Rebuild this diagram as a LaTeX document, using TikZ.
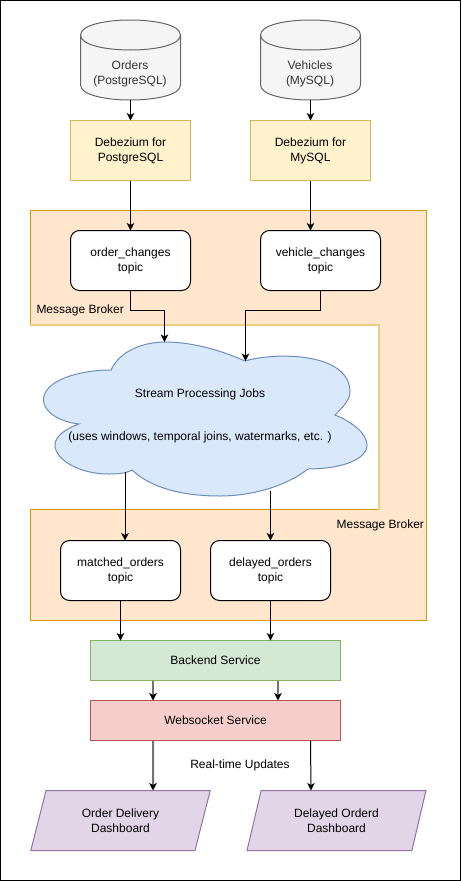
\documentclass[tikz,border=0pt]{standalone}
\usepackage{fontspec}
\setmainfont{Liberation Sans}
\usetikzlibrary{arrows.meta,shapes.geometric}
\definecolor{dbfill}{HTML}{F5F5F5}
\definecolor{dbline}{HTML}{666666}
\definecolor{dbtext}{HTML}{333333}
\definecolor{yellowfill}{HTML}{FFF2CC}
\definecolor{yellowline}{HTML}{D6B656}
\definecolor{brokerfill}{HTML}{FFE6CC}
\definecolor{brokerline}{HTML}{D79B00}
\definecolor{brokersoft}{HTML}{EDCB7F}
\definecolor{cloudfill}{HTML}{DAE8FC}
\definecolor{cloudline}{HTML}{6C8EBF}
\definecolor{greenfill}{HTML}{D5E8D4}
\definecolor{greenline}{HTML}{82B366}
\definecolor{redfill}{HTML}{F8CECC}
\definecolor{redline}{HTML}{B85450}
\definecolor{purplefill}{HTML}{E1D5E7}
\definecolor{purpleline}{HTML}{9673A6}
\tikzset{
  every node/.style={font=\fontsize{12}{15}\selectfont, align=center, inner sep=0pt, outer sep=0pt},
  flow/.style={line width=1pt, -{Stealth[length=7.5pt,width=7.5pt,inset=2pt]}},
  flowsoft/.style={draw=black!55, line width=2pt, -{Stealth[length=7.5pt,width=7.5pt,inset=2pt,black]}},
  dbdrum/.style={draw=dbline, fill=dbfill, line width=1pt},
  dbname/.style={text=dbtext},
  connector/.style={draw=yellowline, fill=yellowfill, line width=1pt, minimum width=120pt, minimum height=60pt},
  topicbox/.style={draw=black, fill=white, rounded corners=9pt, line width=1pt, minimum width=120pt, minimum height=60pt},
  service/.style={line width=1pt, minimum width=250pt, minimum height=40pt},
  dashboard/.style={trapezium, trapezium left angle=71.6, trapezium right angle=108.4, trapezium stretches=true, draw=purpleline, fill=purplefill, line width=1pt, minimum width=180pt, minimum height=60pt}
}
% Drum outline, argument is the left edge
\newcommand{\drumat}[1]{
  \draw[dbdrum] (#1,35) .. controls (#1,15) and (#1+100,15) .. (#1+100,35) -- (#1+100,85)
    .. controls (#1+100,105) and (#1,105) .. (#1,85) -- cycle;
  \draw[dbdrum, fill=none] (#1,35) .. controls (#1,55) and (#1+100,55) .. (#1+100,35);
}
\begin{document}
\begin{tikzpicture}[x=1pt,y=-1pt]
\useasboundingbox (0,0) rectangle (461,881);
% Outer frame
\draw[line width=1pt] (0.5,0.5) rectangle (460.5,880.5);
% Message broker band wrapped round the cloud
\fill[brokerfill] (30.5,210.5) -- (426.5,210.5) -- (426.5,620) -- (30.5,620) -- (30.5,510) -- (379,510) -- (379,325) -- (30.5,325) -- cycle;
\draw[draw=brokerline, line width=1pt] (30.5,325) -- (30.5,210.5) -- (426.5,210.5) -- (426.5,620) -- (30.5,620) -- (30.5,509.5) -- (379,509.5);
\draw[draw=brokersoft, line width=2pt] (30,325) -- (379,325) -- (379,510);
\node[anchor=west] (brokerleft) at (36.5,310) {Message Broker};
\node[anchor=east] (brokerright) at (424,525) {Message Broker};
% Source databases
\drumat{80.5}
\node[dbname] (orders) at (130,73.5) {Orders\\(PostgreSQL)};
\coordinate (ordersbase) at (130.5,100);
\drumat{260.5}
\node[dbname] (vehicles) at (310,73.5) {Vehicles\\(MySQL)};
\coordinate (vehiclesbase) at (310.5,100);
% CDC connectors
\node[connector] (debpg) at (130.5,150.5) {Debezium for\\PostgreSQL};
\node[connector] (debmy) at (310.5,150.5) {Debezium for\\MySQL};
% Input topics
\node[topicbox] (orderchanges) at (130.5,260.5) {order\_changes\\topic};
\node[topicbox] (vehiclechanges) at (320.5,260.5) {vehicle\_changes\\topic};
% Cloud drawn by hand
\draw[draw=cloudline, fill=cloudfill, line width=1pt] (111,370)
  .. controls (120,350) and (145,342) .. (165,342)
  .. controls (195,342) and (225,352) .. (245,361)
  .. controls (275,352) and (350,352) .. (350,392)
  .. controls (350,400) and (342,408) .. (335,415)
  .. controls (355,423) and (367,435) .. (367,445)
  .. controls (367,460) and (340,469) .. (308,469)
  .. controls (285,487) and (250,496) .. (220,496)
  .. controls (180,496) and (150,487) .. (132,470)
  .. controls (125,474) and (115,474) .. (108,474)
  .. controls (80,474) and (55,460) .. (55,445)
  .. controls (55,435) and (68,428) .. (79,424)
  .. controls (60,422) and (43.5,412) .. (43.5,400)
  .. controls (43.5,380) and (80,370) .. (111,370) -- cycle;
\node (jobs) at (200,416) {Stream Processing Jobs\\[28pt](uses windows, temporal joins, watermarks, etc. )};
\coordinate (cloudtopa) at (164.5,342);
\coordinate (cloudtopb) at (245.5,361);
\coordinate (cloudlowa) at (125,472);
\coordinate (cloudlowb) at (270.5,491);
% Output topics
\node[topicbox] (matched) at (120.5,570.5) {matched\_orders\\topic};
\node[topicbox] (delayed) at (270.5,570.5) {delayed\_orders\\topic};
% Services
\node[service, draw=greenline, fill=greenfill] (backend) at (215.5,660.5) {Backend Service};
\node[service, draw=redline, fill=redfill] (websocket) at (215.5,720.5) {Websocket Service};
% Dashboards
\node[dashboard] (dashorder) at (120.5,820.5) {Order Delivery\\Dashboard};
\node[dashboard] (dashdelay) at (336.5,820.5) {Delayed Orderd\\Dashboard};
\node (realtime) at (240,765) {Real-time Updates};
% Arrows top to bottom
\draw[flow] (ordersbase) -- (debpg.north);
\draw[flow] (vehiclesbase) -- (debmy.north);
\draw[flow] (debpg.south) -- (orderchanges.north);
\draw[flow] (debmy.south) -- (debmy.south |- vehiclechanges.north);
\draw[flow] (orderchanges.south) -- ++(0,20) -| (cloudtopa);
\draw[flow] (vehiclechanges.south) -- ++(0,20) -| (cloudtopb);
\draw[flow] (cloudlowa) -- (cloudlowa |- matched.north);
\draw[flow] (cloudlowb) -- (delayed.north);
\draw[flow] (matched.south) -- (matched.south |- backend.north);
\draw[flow] (delayed.south) -- (delayed.south |- backend.north);
\draw[flowsoft] ([xshift=-62.5pt]backend.south) -- ([xshift=-62.5pt]websocket.north);
\draw[flowsoft] ([xshift=62.5pt]backend.south) -- ([xshift=62.5pt]websocket.north);
\draw[flowsoft] ([xshift=-62.5pt]websocket.south) -- ([xshift=32.5pt]dashorder.north);
\draw[flow] ([xshift=95pt]websocket.south) -- ([xshift=-25.5pt]dashdelay.north);
\end{tikzpicture}
\end{document}
